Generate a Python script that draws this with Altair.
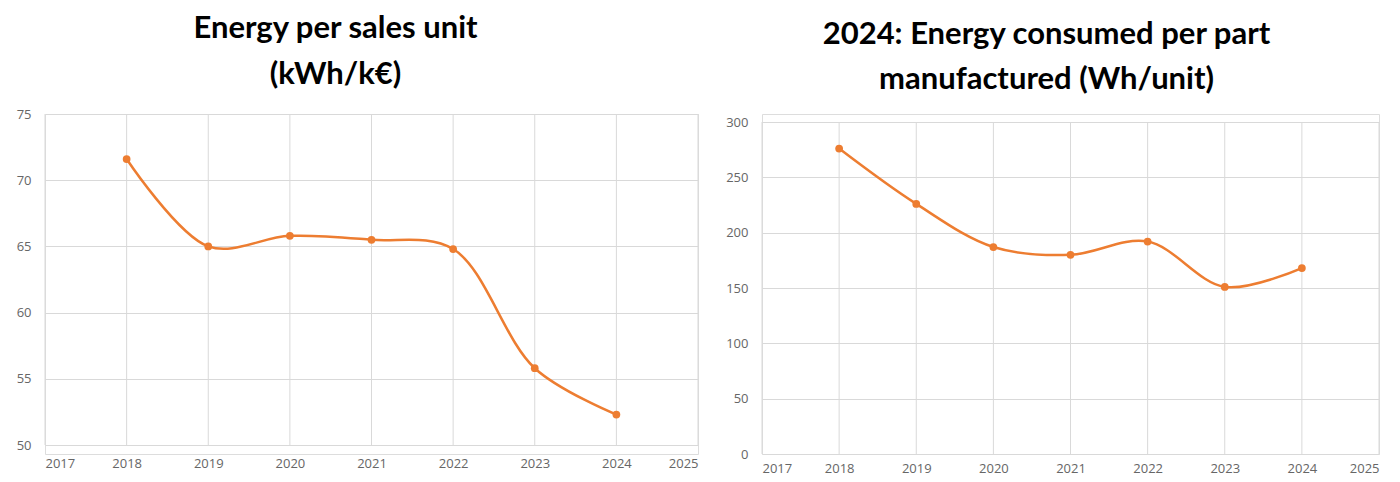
import altair as alt
import pandas as pd

years = [2018, 2019, 2020, 2021, 2022, 2023, 2024]
energy_per_sales = [71.6, 65.0, 65.8, 65.5, 64.8, 55.8, 52.3]
energy_per_part = [276, 226, 187, 180, 192, 151, 168]
x_ticks = [2017, 2018, 2019, 2020, 2021, 2022, 2023, 2024, 2025]

title_left = ["Energy per sales unit", "(kWh/k€)"]
title_right = ["2024: Energy consumed per part", "manufactured (Wh/unit)"]

ORANGE = "#ED7D31"
GRID = "#d9d9d9"
LABEL = "#666666"

df_left = pd.DataFrame({"year": years, "value": energy_per_sales})
df_right = pd.DataFrame({"year": years, "value": energy_per_part})
df_ticks = pd.DataFrame({"year": x_ticks})

H = 340  # shared view height


def make_panel(df, title, ydom, ystep, w, yrange, xoffset, xpad, offset, dx, lh):
    xscale = alt.Scale(domain=[x_ticks[0], x_ticks[-1]], nice=False, zero=False)
    yscale = alt.Scale(domain=ydom, nice=False, zero=False, range=yrange)
    xaxis = alt.Axis(values=x_ticks, format="d", title=None, grid=False,
                     domain=False, ticks=False, labelPadding=xpad,
                     labelColor=LABEL, labelFontSize=13,
                     labelFont="Open Sans", offset=xoffset)
    yaxis = alt.Axis(values=list(range(ydom[0], ydom[1] + 1, ystep)), title=None,
                     ticks=False, labelPadding=14, grid=True, gridColor=GRID,
                     domain=False, labelColor=LABEL, labelFontSize=13,
                     labelFont="Open Sans")
    vgrid = alt.Chart(df_ticks).mark_rule(color=GRID, strokeWidth=1).encode(
        x=alt.X("year:Q", scale=xscale, axis=xaxis),
        y=alt.YDatum(ydom[0], type="quantitative", scale=yscale, axis=yaxis),
        y2=alt.Y2Datum(ydom[1]),
    )
    base = alt.Chart(df).encode(
        x=alt.X("year:Q", scale=xscale, axis=xaxis),
        y=alt.Y("value:Q", scale=yscale, axis=yaxis),
    )
    line = base.mark_line(color=ORANGE, strokeWidth=2.5, interpolate="catmull-rom")
    pts = base.mark_circle(color=ORANGE, size=60, opacity=1)
    return (vgrid + line + pts).properties(
        width=w, height=H,
        title=alt.Title(text=title, font="Lato", fontSize=31, fontWeight="bold",
                        color="#000000", lineHeight=lh, anchor="middle",
                        offset=offset, dx=dx),
    )


left = make_panel(df_left, title_left, [50, 75], 5, 653, [331, 0], -9, 12, 17, -36, 46)
right = make_panel(df_right, title_right, [0, 300], 50, 617, [340, 8], 0, 8, 18, -24, 45)

chart = alt.hconcat(left, right, spacing=26).configure_view(
    stroke="transparent").properties(
    padding={"left": 7, "top": 4, "right": 5, "bottom": 5}).configure(
    background="white")

chart.save("out.html", embed_options={"renderer": "svg", "actions": False})
